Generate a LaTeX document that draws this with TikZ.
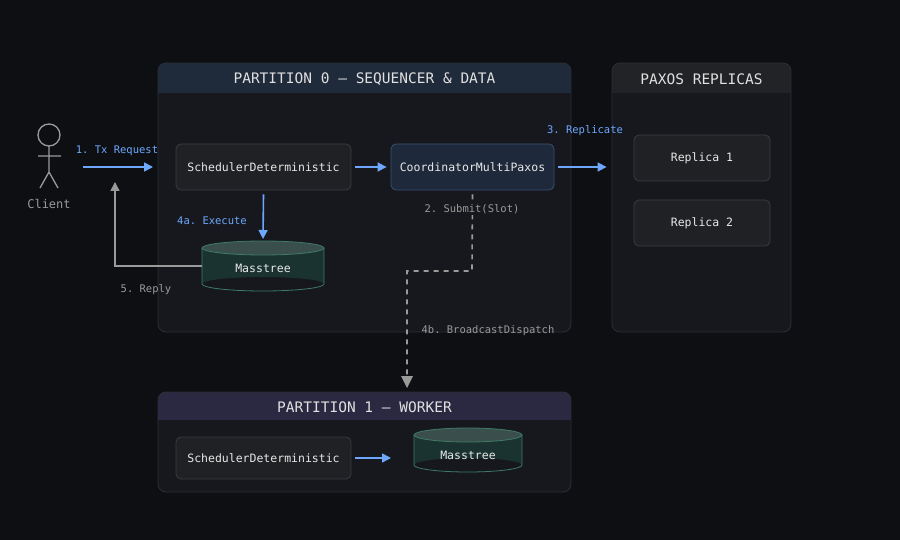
\documentclass[tikz,border=0pt]{standalone}
\usepackage{fontspec}
\setmonofont{DejaVu Sans Mono}
\usetikzlibrary{arrows.meta}
\definecolor{bg}{HTML}{0D0F13}
\definecolor{panel}{HTML}{16181D}
\definecolor{pborder}{HTML}{2C2F36}
\definecolor{hdrA}{HTML}{1F2A3A}
\definecolor{hdrB}{HTML}{222326}
\definecolor{hdrC}{HTML}{2B2942}
\definecolor{boxf}{HTML}{202124}
\definecolor{boxb}{HTML}{3A3C42}
\definecolor{coordf}{HTML}{1E2A3B}
\definecolor{coordb}{HTML}{3A5070}
\definecolor{cylf}{HTML}{1B3330}
\definecolor{cylb}{HTML}{3E7A66}
\definecolor{blu}{HTML}{6EA8FE}
\definecolor{gry}{HTML}{9A9A9A}
\definecolor{txt}{HTML}{E8E8E8}
\definecolor{htxt}{HTML}{E0E0E0}
\tikzset{
 x=1pt,y=-1pt,
 box/.style={draw=boxb,fill=boxf,rounded corners=5pt,line width=0.8pt,text=txt,font=\ttfamily\fontsize{11.5}{13}\selectfont},
 hdr/.style={text=htxt,font=\ttfamily\fontsize{14.5}{16}\selectfont},
 lbl/.style={font=\ttfamily\fontsize{10.5}{12}\selectfont},
 barrow/.style={draw=blu,line width=1.6pt,-{Triangle[length=9pt,width=9pt]}},
 garrow/.style={draw=gry,line width=1.6pt,-{Triangle[length=9pt,width=9pt]}},
}
\newcommand{\panelbox}[6]{% x1 y1 x2 y2 hdr-bottom color
 \fill[panel,rounded corners=8pt] (#1,#2) rectangle (#3,#4);
 \begin{scope}
 \clip[rounded corners=8pt] (#1,#2) rectangle (#3,#4);
 \fill[#6] (#1,#2) rectangle (#3,#5);
 \end{scope}
 \draw[pborder,line width=0.8pt,rounded corners=8pt] (#1,#2) rectangle (#3,#4);
}
\newcommand{\cyl}[5]{% name cx cy w h text
 \fill[cylf] (#2-#4/2,#3-#5/2+7) -- (#2-#4/2,#3+#5/2-7) arc[start angle=180,end angle=360,x radius=#4/2,y radius=7] -- (#2+#4/2,#3-#5/2+7) arc[start angle=0,end angle=-180,x radius=#4/2,y radius=-7] -- cycle;
 \draw[cylb,line width=0.8pt,fill=cylf!85!white!90!cylf] (#2,#3-#5/2+7) ellipse[x radius=#4/2,y radius=7];
 \draw[cylb,line width=0.8pt] (#2-#4/2,#3-#5/2+7) -- (#2-#4/2,#3+#5/2-7) arc[start angle=180,end angle=360,x radius=#4/2,y radius=-7] -- (#2+#4/2,#3-#5/2+7);
}
\begin{document}
\begin{tikzpicture}
\fill[bg] (0,0) rectangle (900,540);
\useasboundingbox (0,0) rectangle (900,540);
\panelbox{158}{63}{571}{332}{93}{hdrA}
\panelbox{612}{63}{791}{332}{93}{hdrB}
\panelbox{158}{392}{571}{492}{420}{hdrC}
\node[hdr] (h0) at (364.5,79) {PARTITION 0 — SEQUENCER \& DATA};
\node[hdr] (h1) at (701.5,79) {PAXOS REPLICAS};
\node[hdr] (h2) at (364.5,407) {PARTITION 1 — WORKER};
% client
\draw[gry,line width=1.3pt] (49,135) circle (11);
\draw[gry,line width=1.3pt] (49,146) -- (49,172) (38,156) -- (61,156) (40,188) -- (49,172) -- (58,188);
\node[lbl,text=gry,font=\ttfamily\fontsize{12}{14}\selectfont] (client) at (49,204) {Client};
\coordinate (cin) at (83,167);
% boxes
\node[box,minimum width=175pt,minimum height=46pt] (s0) at (263.5,167) {SchedulerDeterministic};
\node[box,draw=coordb,fill=coordf,minimum width=163pt,minimum height=46pt] (co) at (472.5,167) {CoordinatorMultiPaxos};
\node[box,minimum width=136pt,minimum height=46pt] (r1) at (702,158) {Replica 1};
\node[box,minimum width=136pt,minimum height=46pt] (r2) at (702,223) {Replica 2};
\node[box,minimum width=175pt,minimum height=42pt] (s1) at (263.5,458) {SchedulerDeterministic};
\cyl{m0}{263}{266}{122}{50}
\node[text=txt,font=\ttfamily\fontsize{11.5}{13}\selectfont,minimum width=122pt,minimum height=50pt] (m0) at (263,268) {Masstree};
\cyl{m1}{468}{450}{108}{44}
\node[text=txt,font=\ttfamily\fontsize{11.5}{13}\selectfont,minimum width=108pt,minimum height=44pt] (m1) at (468,455) {Masstree};
% arrows
\draw[barrow] (cin) -- (153,167);
\node[lbl,text=blu] (l1) at (117,151) {1. Tx Request};
\draw[barrow] (s0.east) ++(4,0) -- ([xshift=-4pt]co.west);
\draw[barrow] ([xshift=4pt]co.east) -- ([xshift=-27pt]r1.west |- co.east);
\node[lbl,text=blu] (l3) at (585,131) {3. Replicate};
\draw[barrow] ([yshift=-4pt]s0.south) -- (263,239);
\node[lbl,text=blu] (l4a) at (212,221) {4a. Execute};
\draw[garrow] (202,266) -- (115,266) -- (115,182);
\node[lbl,text=gry] (l5) at (146,290) {5. Reply};
\draw[gry,line width=1.6pt,dash pattern=on 5pt off 5pt] ([yshift=-4pt]co.south) -- (472,271) -- (407,271) -- (407,376);
\fill[gry] (401,376) -- (413,376) -- (407,388) -- cycle;
\node[lbl,text=gry,fill=panel,inner sep=1pt] (l2) at (472,209) {2. Submit(Slot)};
\node[lbl,text=gry] (l4b) at (488,331) {4b. BroadcastDispatch};
\draw[barrow] ([xshift=4pt]s1.east) -- (391,458);
\end{tikzpicture}
\end{document}
